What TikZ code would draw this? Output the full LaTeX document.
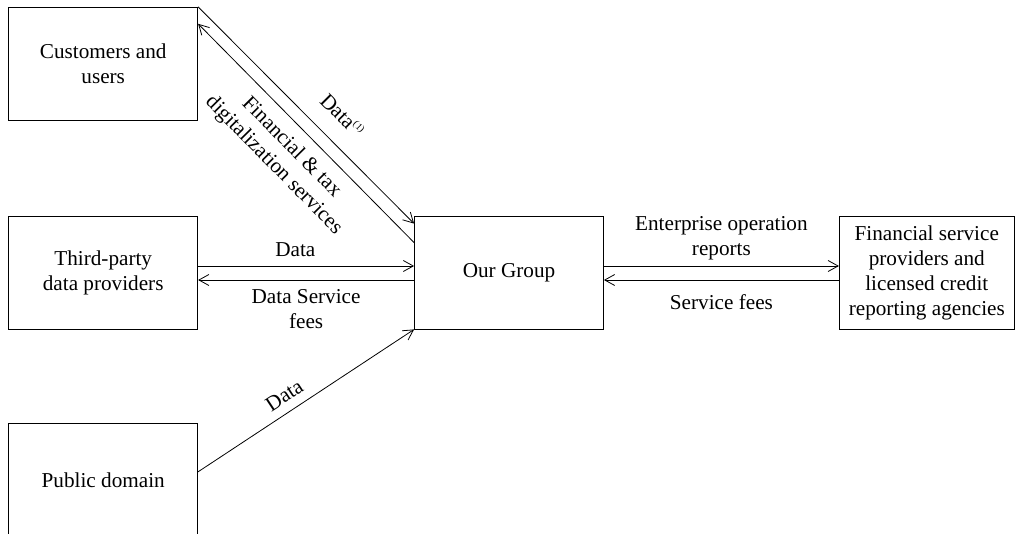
\documentclass[tikz,border=0pt]{standalone}
\usepackage{fontspec}
\setmainfont{Liberation Serif}
\usetikzlibrary{positioning, arrows.meta, calc}
\tikzset{
x=0.5pt, y=-0.5pt, % one unit is one pixel of the page, y runs downwards
>={Straight Barb[length=5pt, width=5.5pt]}, % makes the arrow heads open
line width=0.5pt, % thin lines everywhere
every node/.style={font=\fontsize{10.6}{12.5}\selectfont}, % sets the text size of every node
party/.style={draw, minimum width=94.5pt, minimum height=56.5pt, align=center, inner sep=2pt}, % the boxes
flow/.style={->}, % the connectors
}

\begin{document}
\begin{tikzpicture}
      \useasboundingbox (0,0) rectangle (1015,534);
      \node[party] (group) at (509,272.5) {Our Group};
      \node[party, left=108pt of group] (third) {Third-party\\data providers};
      \node[party, above=47.5pt of third] (cust) {Customers and\\users};
      \node[party, below=47pt of third] (public) {Public domain};
      \node[party, right=117.5pt of group, minimum width=87.5pt, inner sep=1pt] (fin) {Financial service\\providers and\\licensed credit\\reporting agencies};

      \draw[flow] (cust.north east) -- node[pos=0.585, sloped, above=5.5pt]{Data\textsuperscript{\tiny(1)}} ($(group.north west)+(0,8)$);
      \draw[flow] ($(group.north west)+(0,27)$) -- node[midway, sloped, below=2pt, align=center]{Financial \& tax\\digitalization services} ($(cust.north east)+(0,17)$);
      \draw[flow] ($(third.east)+(0,-6.5)$) -- node[pos=0.45, above=1pt]{Data} ($(group.west)+(0,-6.5)$);
      \draw[flow] ($(group.west)+(0,7.5)$) -- node[midway, below=1pt, align=center]{Data Service\\fees} ($(third.east)+(0,7.5)$);
      \draw[flow] ($(public.east)+(0,-8.5)$) -- node[pos=0.44, sloped, above=1pt]{Data} (group.south west);
      \draw[flow] ($(group.east)+(0,-6.5)$) -- node[midway, above=-0.5pt, align=center]{Enterprise operation\\reports} ($(fin.west)+(0,-6.5)$);
      \draw[flow] ($(fin.west)+(0,7.5)$) -- node[midway, below=4pt]{Service fees} ($(group.east)+(0,7.5)$);
    \end{tikzpicture}
\end{document}
